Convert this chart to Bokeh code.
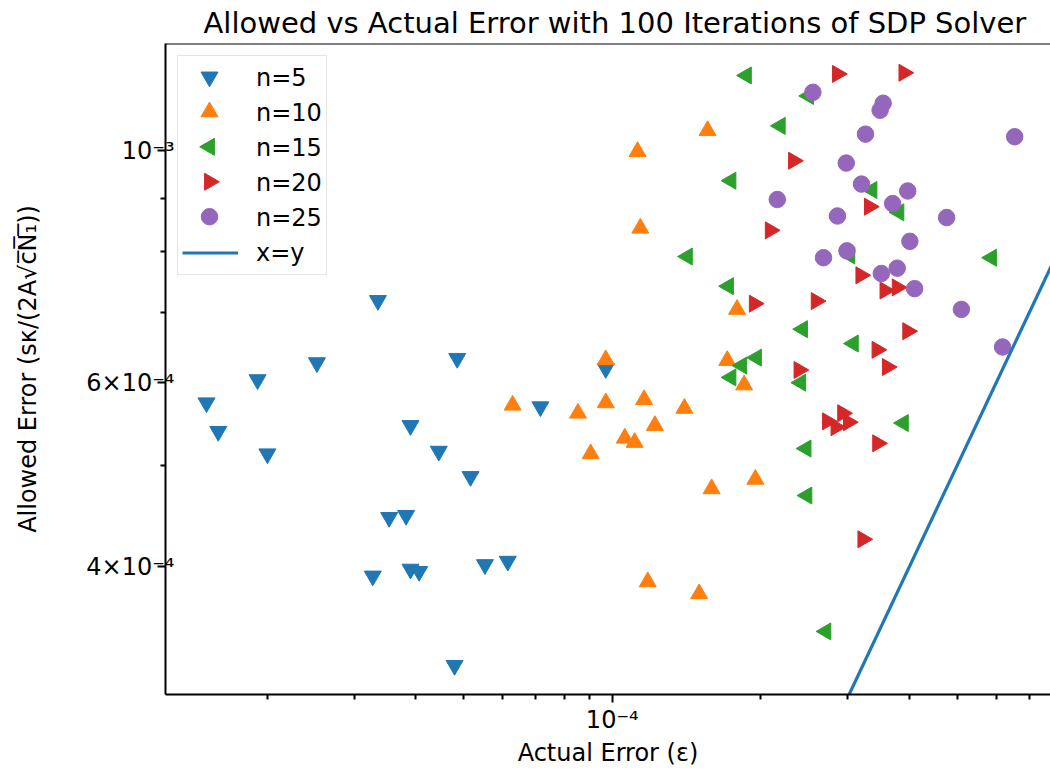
import numpy as np
from bokeh.plotting import figure
from bokeh.models import FixedTicker, Span, Legend, LegendItem
from bokeh.embed import file_html
from bokeh.resources import INLINE

# ---------------- data ----------------
n5_x = [3.35e-5, 2.52e-5, 4.85e-5, 1.91e-5, 1.505e-5, 1.59e-5, 2.00e-5, 3.90e-5, 4.45e-5, 5.16e-5,
        3.53e-5, 3.82e-5, 3.27e-5, 3.90e-5, 4.06e-5, 5.52e-5, 6.14e-5, 7.15e-5, 4.79e-5, 9.70e-5]
n5_y = [7.19e-4, 6.27e-4, 6.33e-4, 6.04e-4, 5.74e-4, 5.39e-4, 5.13e-4, 5.46e-4, 5.16e-4, 4.88e-4,
        4.46e-4, 4.48e-4, 3.92e-4, 3.98e-4, 3.96e-4, 4.02e-4, 4.05e-4, 5.69e-4, 3.22e-4, 6.19e-4]

n10_x = [6.28e-5, 8.52e-5, 9.04e-5, 9.70e-5, 9.70e-5, 1.71e-4, 1.85e-4, 1.16e-4, 1.40e-4, 1.22e-4,
         1.06e-4, 1.11e-4, 1.59e-4, 1.95e-4, 1.18e-4, 1.50e-4, 1.56e-4, 1.125e-4, 1.14e-4, 1.79e-4]
n10_y = [5.71e-4, 5.61e-4, 5.13e-4, 5.74e-4, 6.31e-4, 6.30e-4, 5.97e-4, 5.78e-4, 5.67e-4, 5.46e-4,
         5.31e-4, 5.26e-4, 4.75e-4, 4.85e-4, 3.87e-4, 3.77e-4, 1.045e-3, 9.98e-4, 8.43e-4, 7.05e-4]

n15_x = [1.87e-4, 2.50e-4, 2.19e-4, 1.74e-4, 3.36e-4, 3.81e-4, 1.42e-4, 3.03e-4, 5.87e-4, 1.72e-4,
         2.43e-4, 3.08e-4, 1.96e-4, 1.83e-4, 1.74e-4, 2.41e-4, 3.89e-4, 2.47e-4, 2.48e-4, 2.71e-4]
n15_y = [1.18e-3, 1.128e-3, 1.056e-3, 9.36e-4, 9.17e-4, 8.73e-4, 7.92e-4, 7.94e-4, 7.90e-4, 7.42e-4,
         6.75e-4, 6.54e-4, 6.34e-4, 6.23e-4, 6.07e-4, 6.00e-4, 5.49e-4, 5.19e-4, 4.68e-4, 3.47e-4]

n20_x = [2.86e-4, 3.90e-4, 2.33e-4, 3.32e-4, 2.09e-4, 3.19e-4, 3.57e-4, 3.78e-4, 1.94e-4, 2.59e-4,
         3.97e-4, 3.44e-4, 3.61e-4, 2.39e-4, 2.73e-4, 2.93e-4, 2.84e-4, 3.01e-4, 3.45e-4, 3.22e-4]
n20_y = [1.184e-3, 1.187e-3, 9.78e-4, 8.84e-4, 8.39e-4, 7.60e-4, 7.35e-4, 7.40e-4, 7.14e-4, 7.18e-4,
         6.72e-4, 6.45e-4, 6.21e-4, 6.17e-4, 5.51e-4, 5.61e-4, 5.44e-4, 5.50e-4, 5.25e-4, 4.25e-4]

n25_x = [2.55e-4, 3.54e-4, 3.49e-4, 3.26e-4, 6.54e-4, 2.98e-4, 3.20e-4, 3.97e-4, 2.16e-4, 3.70e-4,
         2.86e-4, 4.76e-4, 4.01e-4, 2.99e-4, 2.68e-4, 3.78e-4, 3.51e-4, 4.10e-4, 5.10e-4, 6.18e-4]
n25_y = [1.137e-3, 1.110e-3, 1.093e-3, 1.037e-3, 1.031e-3, 9.73e-4, 9.29e-4, 9.15e-4, 8.98e-4, 8.90e-4,
         8.66e-4, 8.63e-4, 8.19e-4, 8.02e-4, 7.90e-4, 7.72e-4, 7.63e-4, 7.38e-4, 7.05e-4, 6.49e-4]

labels = ["n=5", "n=10", "n=15", "n=20", "n=25"]
diag = [1e-5, 1e-3]   # x = y reference line

x_major = [1e-4]
x_major_labels = ["10\u207b\u2074"]
x_minor = [2e-5, 3e-5, 4e-5, 5e-5, 6e-5, 7e-5, 8e-5, 9e-5,
           2e-4, 3e-4, 4e-4, 5e-4, 6e-4, 7e-4, 8e-4, 9e-4]
y_major = [4e-4, 6e-4, 1e-3]
y_major_labels = ["4\u00d710\u207b\u2074", "6\u00d710\u207b\u2074", "10\u207b\u00b3"]
y_minor = [5e-4, 7e-4, 8e-4, 9e-4]

x_lim = (1.243e-5, 7.73e-4)
y_lim = (3.02e-4, 1.266e-3)

# ---------------- layout / style ----------------
W, H = 1050, 770
BL, BR, BT, BB = 165, 0, 42, 76
FONT = "DejaVu Sans"
C = ["#1f77b4", "#ff7f0e", "#2ca02c", "#d62728", "#9467bd"]
MARKERS = [("inverted_triangle", 0.0), ("triangle", 0.0), ("triangle", np.pi / 2),
           ("triangle", -np.pi / 2), ("circle", 0.0)]
SIZES = [17, 17, 17, 17, 16.5]

p = figure(width=W, height=H, x_axis_type="log", y_axis_type="log",
           x_range=x_lim, y_range=y_lim, output_backend="svg", toolbar_location=None,
           min_border_left=BL, min_border_right=BR, min_border_top=BT, min_border_bottom=BB,
           title="Allowed vs Actual Error with 100 Iterations of SDP Solver")
p.outline_line_color = None
p.grid.visible = False
p.background_fill_color = "white"
p.border_fill_color = "white"

p.title.text_font = FONT
p.title.text_font_size = "29px"
p.title.text_font_style = "normal"
p.title.text_color = "black"
p.title.align = "left"
p.title.offset = 38
p.title.standoff = 7

for ax in (p.xaxis[0], p.yaxis[0]):
    ax.axis_line_width = 2
    ax.major_tick_line_width = 2
    ax.minor_tick_line_width = 2
    ax.major_tick_in = 0
    ax.minor_tick_in = 0
    ax.major_tick_out = 8
    ax.minor_tick_out = 5
    ax.major_label_text_font = FONT
    ax.major_label_text_font_size = "24px"
    ax.major_label_text_color = "black"
    ax.axis_label_text_font = FONT
    ax.axis_label_text_font_size = "24px"
    ax.axis_label_text_font_style = "normal"
    ax.axis_label_text_color = "black"

p.xaxis.ticker = FixedTicker(ticks=x_major, minor_ticks=x_minor)
p.xaxis.major_label_overrides = dict(zip(x_major, x_major_labels))
p.yaxis.ticker = FixedTicker(ticks=y_major, minor_ticks=y_minor)
p.yaxis.major_label_overrides = dict(zip(y_major, y_major_labels))
p.xaxis.axis_label = "Actual Error (\u03b5)"
p.yaxis.axis_label = "Allowed Error (s\u03ba/(2A\u221ac\u0305N\u0305\u2081\u0305))"
p.xaxis.major_label_standoff = 3
p.xaxis.axis_label_standoff = 2
p.yaxis.major_label_standoff = -17
p.yaxis.axis_label_standoff = 41

top_spine = Span(location=y_lim[1], dimension="width", line_color="black", line_width=2)
p.add_layout(top_spine)

series = [(n5_x, n5_y), (n10_x, n10_y), (n15_x, n15_y), (n20_x, n20_y), (n25_x, n25_y)]
for (xs, ys), (mk, ang), col, sz in zip(series, MARKERS, C, SIZES):
    p.scatter(xs, ys, marker=mk, angle=ang, size=sz, color=col)
rl = p.line(diag, diag, line_color=C[0], line_width=3.2)

# ---------------- legend ----------------
LM, LP, GW, RH, LS = 12, 4, 56, 35, 18
dummy = p.scatter([np.nan], [np.nan], size=0, fill_alpha=0, line_alpha=0)
items = [LegendItem(label=lab, renderers=[dummy]) for lab in labels]
items.append(LegendItem(label="x=y", renderers=[rl]))
legend = Legend(items=items, location="top_left", margin=LM, padding=LP, spacing=0,
                glyph_height=RH, glyph_width=GW, label_height=RH, label_standoff=LS,
                label_text_font=FONT, label_text_font_size="24px", label_text_color="black",
                border_line_color="#cccccc", border_line_width=1.5,
                background_fill_color="white", background_fill_alpha=0.0)
p.add_layout(legend)

# legend markers (Bokeh legends ignore marker angle), placed in the legend's glyph slots
fw, fh = W - BL - BR, H - BT - BB
lx0, lx1 = np.log10(x_lim)
ly0, ly1 = np.log10(y_lim)
def to_data(dx, dy):
    """screen offset from the frame's top-left corner -> data coordinates"""
    return 10 ** (lx0 + dx / fw * (lx1 - lx0)), 10 ** (ly1 - dy / fh * (ly1 - ly0))

for i, ((mk, ang), col, sz) in enumerate(zip(MARKERS, C, SIZES)):
    gx, gy = to_data(LM + LP + GW / 2, LM + LP + RH / 2 + i * RH)
    p.scatter([gx], [gy], marker=mk, angle=ang, size=sz, color=col, level="overlay")

open("out.html", "w").write(file_html(p, INLINE))
